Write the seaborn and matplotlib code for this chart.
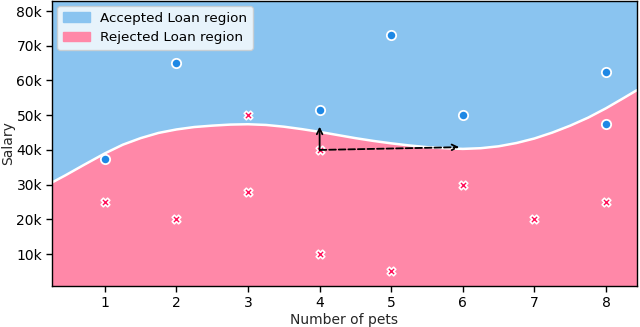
import numpy as np
import pandas as pd
import matplotlib
matplotlib.use("Agg")
import matplotlib.pyplot as plt
import matplotlib.patches as mpatches
from matplotlib.ticker import FuncFormatter
import seaborn as sns

# applicants
acc_pets = [1, 2, 4, 5, 6, 8, 8]
acc_salary = [37500, 65000, 51500, 73000, 50000, 62500, 47500]
rej_pets = [1, 2, 3, 3, 4, 4, 5, 6, 7, 8]
rej_salary = [25000, 20000, 28000, 50000, 40000, 10000, 5000, 30000, 20000, 25000]

# decision boundary
bound_x = [0.26, 0.45, 0.70, 1.0, 1.25, 1.5, 1.75, 2.0, 2.25, 2.5, 2.75, 3.0,
           3.25, 3.5, 3.75, 4.0, 4.25, 4.5, 4.75, 5.0, 5.25, 5.5, 5.75, 6.0,
           6.25, 6.5, 6.75, 7.0, 7.25, 7.5, 7.75, 8.0, 8.25, 8.43]
bound_y = [30600, 32700, 35600, 39000, 41500, 43400, 44900, 45900, 46600, 47000, 47300, 47400,
           47200, 46700, 46000, 45200, 44300, 43400, 42600, 41900, 41300, 40800, 40500, 40300,
           40500, 41050, 42000, 43300, 45000, 47000, 49300, 52000, 55000, 57200]

# counterfactual arrows: start, end
arrow_start = (4, 40000)
arrow_up = (4, 46700)
arrow_right = (5.95, 40800)

yticks = [10000, 20000, 30000, 40000, 50000, 60000, 70000, 80000]
xticks = [1, 2, 3, 4, 5, 6, 7, 8]

col_acc_region = "#8AC4F0"
col_rej_region = "#FF88A8"
col_acc = "#1E88E5"
col_rej = "#FF0D57"

sns.set_style("ticks")
plt.rcParams["font.family"] = ["DejaVu Sans"]

fig = plt.figure(figsize=(6.4, 3.27), dpi=100)
ax = fig.add_axes([0.081, 0.125, 0.914, 0.872])

ylo, yhi = 780, 82900
bx = np.array(bound_x)
by = np.array(bound_y)
ax.fill_between(bx, by, yhi, color=col_acc_region, linewidth=0)
ax.fill_between(bx, ylo, by, color=col_rej_region, linewidth=0)
ax.plot(bx, by, color="white", linewidth=1.8, solid_joinstyle="round")

acc = pd.DataFrame({"pets": acc_pets, "salary": acc_salary})
rej = pd.DataFrame({"pets": rej_pets, "salary": rej_salary})
sns.scatterplot(data=acc, x="pets", y="salary", color=col_acc, marker="o",
                s=45, edgecolor="white", linewidth=1.3, ax=ax, zorder=3)
sns.scatterplot(data=rej, x="pets", y="salary", color=col_rej, marker="X",
                s=38, edgecolor="white", linewidth=1.2, ax=ax, zorder=3)

ax.annotate("", xy=arrow_up, xytext=arrow_start,
            arrowprops=dict(arrowstyle="->", color="black", lw=1.3, shrinkA=0, shrinkB=0),
            zorder=4)
ax.annotate("", xy=arrow_right, xytext=arrow_start,
            arrowprops=dict(arrowstyle="->", color="black", lw=1.3, linestyle="--",
                            shrinkA=0, shrinkB=0),
            zorder=4)

ax.set_xlim(0.26, 8.43)
ax.set_ylim(ylo, yhi)
ax.set_xticks(xticks)
ax.set_yticks(yticks)
ax.yaxis.set_major_formatter(FuncFormatter(lambda v, p: f"{int(v / 1000)}k"))
ax.tick_params(labelsize=10, length=4, width=1, pad=3, colors="black")
ax.set_xlabel("Number of pets", fontsize=10, labelpad=2)
ax.set_ylabel("Salary", fontsize=10, labelpad=1)
for s in ax.spines.values():
    s.set_visible(True)
    s.set_color("black")
    s.set_linewidth(1.0)

handles = [mpatches.Patch(color=col_acc_region, label="Accepted Loan region"),
           mpatches.Patch(color=col_rej_region, label="Rejected Loan region")]
leg = ax.legend(handles=handles, loc="upper left", fontsize=9.7, framealpha=0.8,
                borderaxespad=0.4)
for t in leg.get_texts():
    t.set_color("black")

plt.savefig("out.png", dpi=100)
